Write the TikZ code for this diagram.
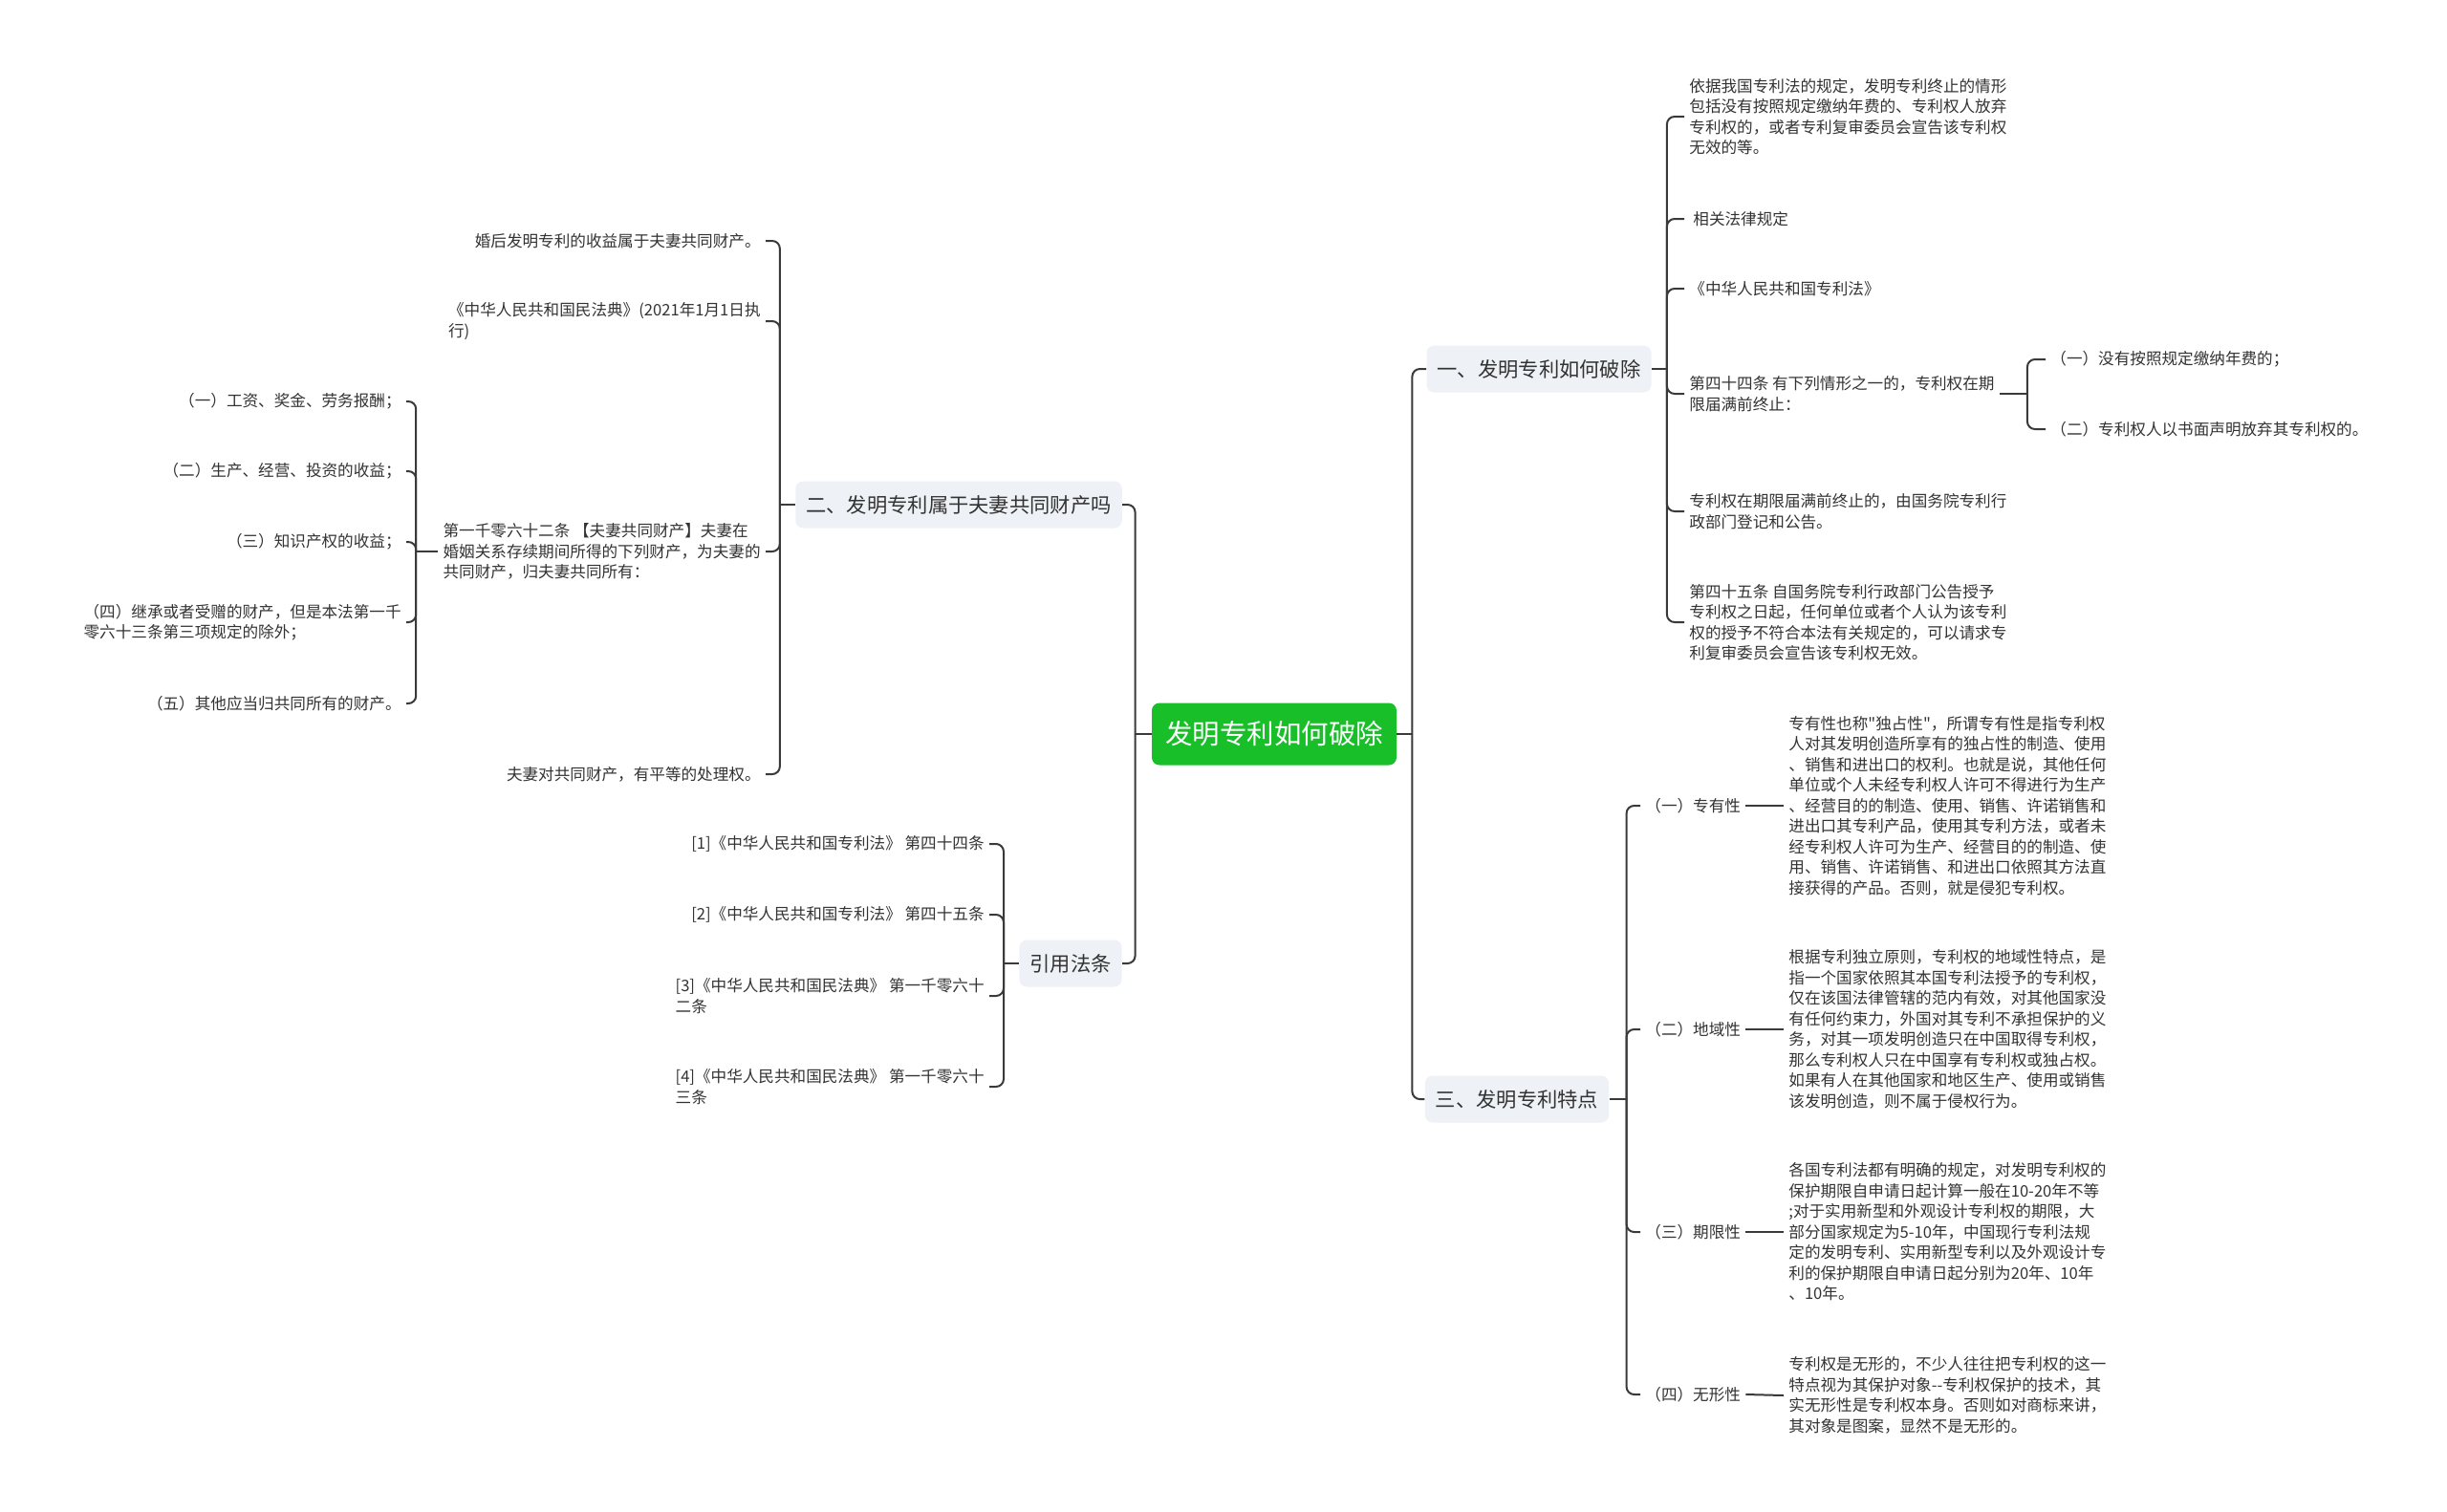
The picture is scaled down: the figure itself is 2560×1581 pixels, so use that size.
\documentclass[tikz,border=0pt]{standalone}
\usepackage{fontspec}
\setmainfont{Noto Sans CJK SC}[Ligatures=TeXOff]
\usepackage{tikz}
\usetikzlibrary{calc}
\definecolor{rootgreen}{RGB}{24,191,40}
\definecolor{boxgray}{RGB}{238,241,245}
\definecolor{ink}{RGB}{51,51,51}
\definecolor{wire}{RGB}{58,58,58}

\begin{document}
\begin{tikzpicture}[x=0.5pt,y=-0.5pt]
\tikzstyle{root}=[fill=rootgreen,text=white,rounded corners=4pt,inner xsep=7pt,minimum height=32.5pt,font=\fontsize{14.25}{16}\selectfont]
\tikzstyle{topic}=[fill=boxgray,text=ink,rounded corners=4pt,inner xsep=5.5pt,minimum height=24.5pt,font=\fontsize{10.65}{12}\selectfont]
\tikzstyle{leaf}=[text=ink,inner xsep=2.5pt,inner ysep=1pt,align=left,font=\fontsize{8.3}{10.75}\selectfont]
\tikzstyle{link}=[draw=wire,line width=1pt,rounded corners=4pt]

\fill[white] (0,0) rectangle (2560,1581);

\node[root] (root) at (1333,768) {发明专利如何破除};
\node[topic] (one) at (1610,386) {一、发明专利如何破除};
\node[topic] (three) at (1587,1150) {三、发明专利特点};
\node[topic] (two) at (1003,528) {二、发明专利属于夫妻共同财产吗};
\node[topic] (cite) at (1120,1008) {引用法条};

% right side
\node[leaf,anchor=west] (one1) at (1762,122) {依据我国专利法的规定，发明专利终止的情形\\包括没有按照规定缴纳年费的、专利权人放弃\\专利权的，或者专利复审委员会宣告该专利权\\无效的等。};
\node[leaf,anchor=west] (one2) at (1762,229) {\hspace{2pt}相关法律规定};
\node[leaf,anchor=west] (one3) at (1762,302) {《中华人民共和国专利法》};
\node[leaf,anchor=west] (one4) at (1762,412) {第四十四条 有下列情形之一的，专利权在期\\限届满前终止：};
\node[leaf,anchor=west] (one5) at (1762,535) {专利权在期限届满前终止的，由国务院专利行\\政部门登记和公告。};
\node[leaf,anchor=west] (one6) at (1762,651) {第四十五条 自国务院专利行政部门公告授予\\专利权之日起，任何单位或者个人认为该专利\\权的授予不符合本法有关规定的，可以请求专\\利复审委员会宣告该专利权无效。};
\node[leaf,anchor=west] (one4a) at (2140,376) {（一）没有按照规定缴纳年费的；};
\node[leaf,anchor=west] (one4b) at (2140,449) {（二）专利权人以书面声明放弃其专利权的。};

\node[leaf,anchor=west] (three1) at (1716,843) {（一）专有性};
\node[leaf,anchor=west] (three2) at (1716,1077) {（二）地域性};
\node[leaf,anchor=west] (three3) at (1716,1289) {（三）期限性};
\node[leaf,anchor=west] (three4) at (1716,1459) {（四）无形性};
\node[leaf,anchor=west] (three1t) at (1866,843) {专有性也称"独占性"，所谓专有性是指专利权\\人对其发明创造所享有的独占性的制造、使用\\、销售和进出口的权利。也就是说，其他任何\\单位或个人未经专利权人许可不得进行为生产\\、经营目的的制造、使用、销售、许诺销售和\\进出口其专利产品，使用其专利方法，或者未\\经专利权人许可为生产、经营目的的制造、使\\用、销售、许诺销售、和进出口依照其方法直\\接获得的产品。否则，就是侵犯专利权。};
\node[leaf,anchor=west] (three2t) at (1866,1077) {根据专利独立原则，专利权的地域性特点，是\\指一个国家依照其本国专利法授予的专利权，\\仅在该国法律管辖的范内有效，对其他国家没\\有任何约束力，外国对其专利不承担保护的义\\务，对其一项发明创造只在中国取得专利权，\\那么专利权人只在中国享有专利权或独占权。\\如果有人在其他国家和地区生产、使用或销售\\该发明创造，则不属于侵权行为。};
\node[leaf,anchor=west] (three3t) at (1866,1289) {各国专利法都有明确的规定，对发明专利权的\\保护期限自申请日起计算一般在10-20年不等\\;对于实用新型和外观设计专利权的期限，大\\部分国家规定为5-10年，中国现行专利法规\\定的发明专利、实用新型专利以及外观设计专\\利的保护期限自申请日起分别为20年、10年\\、10年。};
\node[leaf,anchor=west] (three4t) at (1866,1460) {专利权是无形的，不少人往往把专利权的这一\\特点视为其保护对象--专利权保护的技术，其\\实无形性是专利权本身。否则如对商标来讲，\\其对象是图案，显然不是无形的。};

% left side
\node[leaf,anchor=east] (two1) at (801,252) {婚后发明专利的收益属于夫妻共同财产。};
\node[leaf,anchor=east] (two2) at (801,336) {《中华人民共和国民法典》(2021年1月1日执\\行)};
\node[leaf,anchor=east] (two3) at (801,577) {第一千零六十二条 【夫妻共同财产】夫妻在\\婚姻关系存续期间所得的下列财产，为夫妻的\\共同财产，归夫妻共同所有：};
\node[leaf,anchor=east] (two4) at (801,810) {夫妻对共同财产，有平等的处理权。};
\node[leaf,anchor=east] (two3a) at (425,420) {（一）工资、奖金、劳务报酬；};
\node[leaf,anchor=east] (two3b) at (425,493) {（二）生产、经营、投资的收益；};
\node[leaf,anchor=east] (two3c) at (425,567) {（三）知识产权的收益；};
\node[leaf,anchor=east] (two3d) at (425,651) {（四）继承或者受赠的财产，但是本法第一千\\零六十三条第三项规定的除外；};
\node[leaf,anchor=east] (two3e) at (425,736) {（五）其他应当归共同所有的财产。};

\node[leaf,anchor=east] (cite1) at (1035,883) {[1]《中华人民共和国专利法》 第四十四条};
\node[leaf,anchor=east] (cite2) at (1035,957) {[2]《中华人民共和国专利法》 第四十五条};
\node[leaf,anchor=east] (cite3) at (1035,1042) {[3]《中华人民共和国民法典》 第一千零六十\\二条};
\node[leaf,anchor=east] (cite4) at (1035,1137) {[4]《中华人民共和国民法典》 第一千零六十\\三条};

% connectors
\draw[link] (root.east) -- ++(16,0) coordinate (rj);
\draw[link] (rj) |- (one.west);
\draw[link] (rj) |- (three.west);
\draw[link] (root.west) -- ++(-17,0) coordinate (lj);
\draw[link] (lj) |- (two.east);
\draw[link] (lj) |- (cite.east);

\draw[link] (one.east) -- ++(16,0) coordinate (oj);
\foreach \n in {one1,one2,one3,one4,one5,one6}
  \draw[link] (oj) |- (\n.west);
\draw[link] (one4.east) -- ++(29,0) coordinate (fj);
\foreach \n in {one4a,one4b}
  \draw[link] (fj) |- (\n.west);

\draw[link] (three.east) -- ++(18,0) coordinate (tj);
\foreach \i in {1,...,4} {
  \draw[link] (tj) |- (three\i.west);
  \draw[link] (three\i.east) -- (three\i t.west);
}

\draw[link] (two.west) -- ++(-16,0) coordinate (wj);
\foreach \n in {two1,two2,two3,two4}
  \draw[link] (wj) |- (\n.east);
\draw[link] (two3.west) -- ++(-23,0) coordinate (sj);
\foreach \n in {two3a,two3b,two3c,two3d,two3e}
  \draw[link] (sj) |- (\n.east);

\draw[link] (cite.west) -- ++(-16,0) coordinate (cj);
\foreach \n in {cite1,cite2,cite3,cite4}
  \draw[link] (cj) |- (\n.east);
\end{tikzpicture}
\end{document}
